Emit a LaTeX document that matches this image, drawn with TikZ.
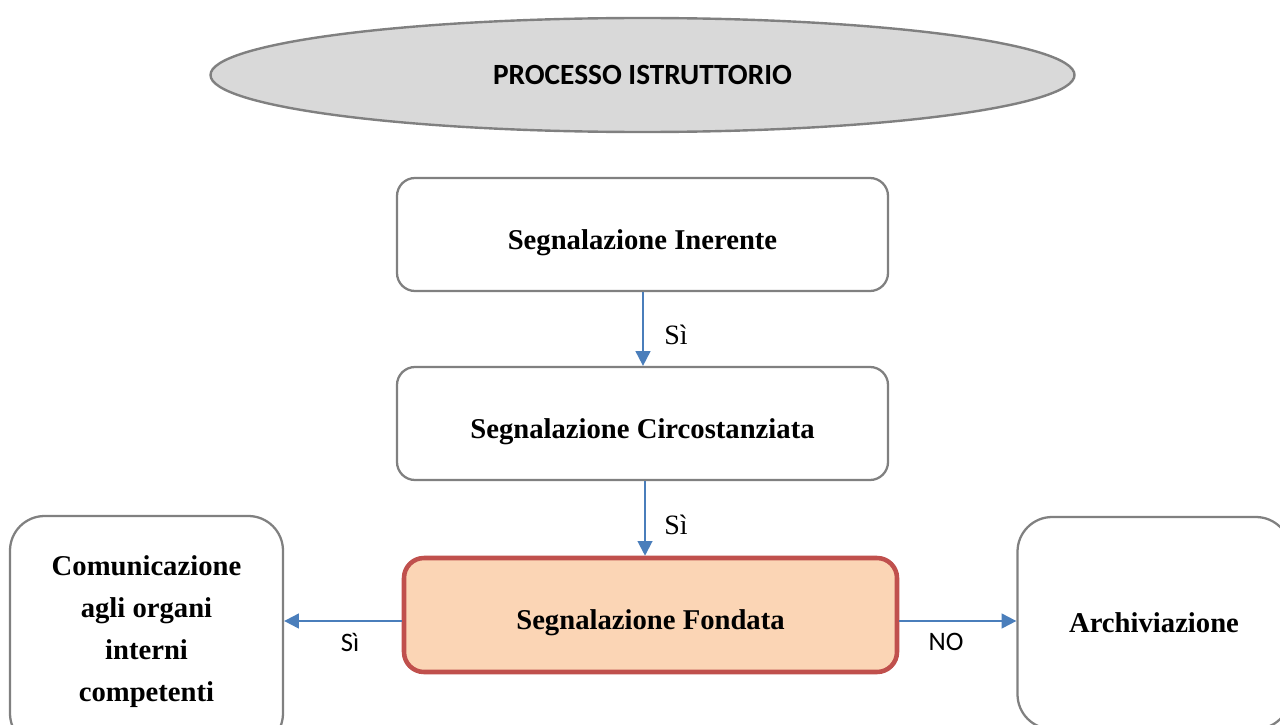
\documentclass[tikz,border=0pt]{standalone}
\usepackage{fontspec}
\setmainfont{Liberation Serif}
\newfontfamily\calib{Carlito}
\usetikzlibrary{shapes.geometric,arrows.meta}
\definecolor{boxgray}{HTML}{808080}
\definecolor{ellfill}{HTML}{D9D9D9}
\definecolor{arrblue}{HTML}{4A7EBB}
\definecolor{peach}{HTML}{FBD5B5}
\definecolor{redline}{HTML}{C0504D}
\tikzset{
  stepbox/.style={draw=boxgray, line width=1.7pt, rounded corners=13.5pt, fill=white,
    minimum width=368.25pt, minimum height=84.75pt, inner sep=0pt,
    text height=22pt, text depth=0pt,
    font=\fontsize{21.5}{30}\selectfont\bfseries},
  sidebox/.style={draw=boxgray, line width=1.7pt, rounded corners=26pt, fill=white,
    minimum width=204.75pt, inner sep=0pt, align=center,
    font=\fontsize{21.5}{31.5}\selectfont\bfseries},
  keybox/.style={draw=redline, line width=3.4pt, rounded corners=15pt, fill=peach,
    minimum width=369.75pt, minimum height=85.5pt, inner sep=0pt,
    text height=22pt, text depth=0pt,
    font=\fontsize{21.5}{30}\selectfont\bfseries},
  arr/.style={draw=arrblue, line width=1.5pt, -{Triangle[length=11pt,width=11pt]}},
  serlab/.style={font=\fontsize{21}{25}\selectfont, inner sep=0pt},
  sanslab/.style={font=\calib\fontsize{20}{24}\selectfont, inner sep=0pt},
}
\begin{document}
\begin{tikzpicture}[x=0.75pt,y=-0.75pt]
\useasboundingbox (0,0) rectangle (1280,724);
\fill[white] (0,0) rectangle (1280,724);
\begin{scope}
\clip (0,0) rectangle (1280,724);
\node[ellipse, draw=boxgray, line width=1.8pt, fill=ellfill, minimum width=648pt,
  minimum height=85.5pt, inner sep=0pt, font=\calib\fontsize{22}{26}\selectfont\bfseries]
  (title) at (642.5,75) {PROCESSO ISTRUTTORIO};
\node[stepbox] (b1) at (642.5,234.5) {Segnalazione Inerente};
\node[stepbox] (b2) at (642.5,423.5) {Segnalazione Circostanziata};
\node[keybox] (b3) at (650.5,615) {Segnalazione Fondata};
\node[sidebox, minimum height=174pt] (bl) at (146.5,632) {Comunicazione\\agli organi\\interni\\competenti};
\node[sidebox, minimum height=159pt] (br) at (1154,623) {Archiviazione};
\coordinate (a1x) at (643,0);
\coordinate (a2x) at (645,0);
\coordinate (ay) at (0,621);
\draw[arr] (b1.south -| a1x) -- (b2.north -| a1x);
\draw[arr] (b2.south -| a2x) -- (b3.north -| a2x);
\draw[arr] (b3.west |- ay) -- (bl.east |- ay);
\draw[arr] (b3.east |- ay) -- (br.west |- ay);
\node[serlab] (l1) at (676,335) {Sì};
\node[serlab] (l2) at (676,525) {Sì};
\node[sanslab] (l3) at (350,642) {Sì};
\node[sanslab] (l4) at (946,642) {NO};
\end{scope}
\end{tikzpicture}
\end{document}
